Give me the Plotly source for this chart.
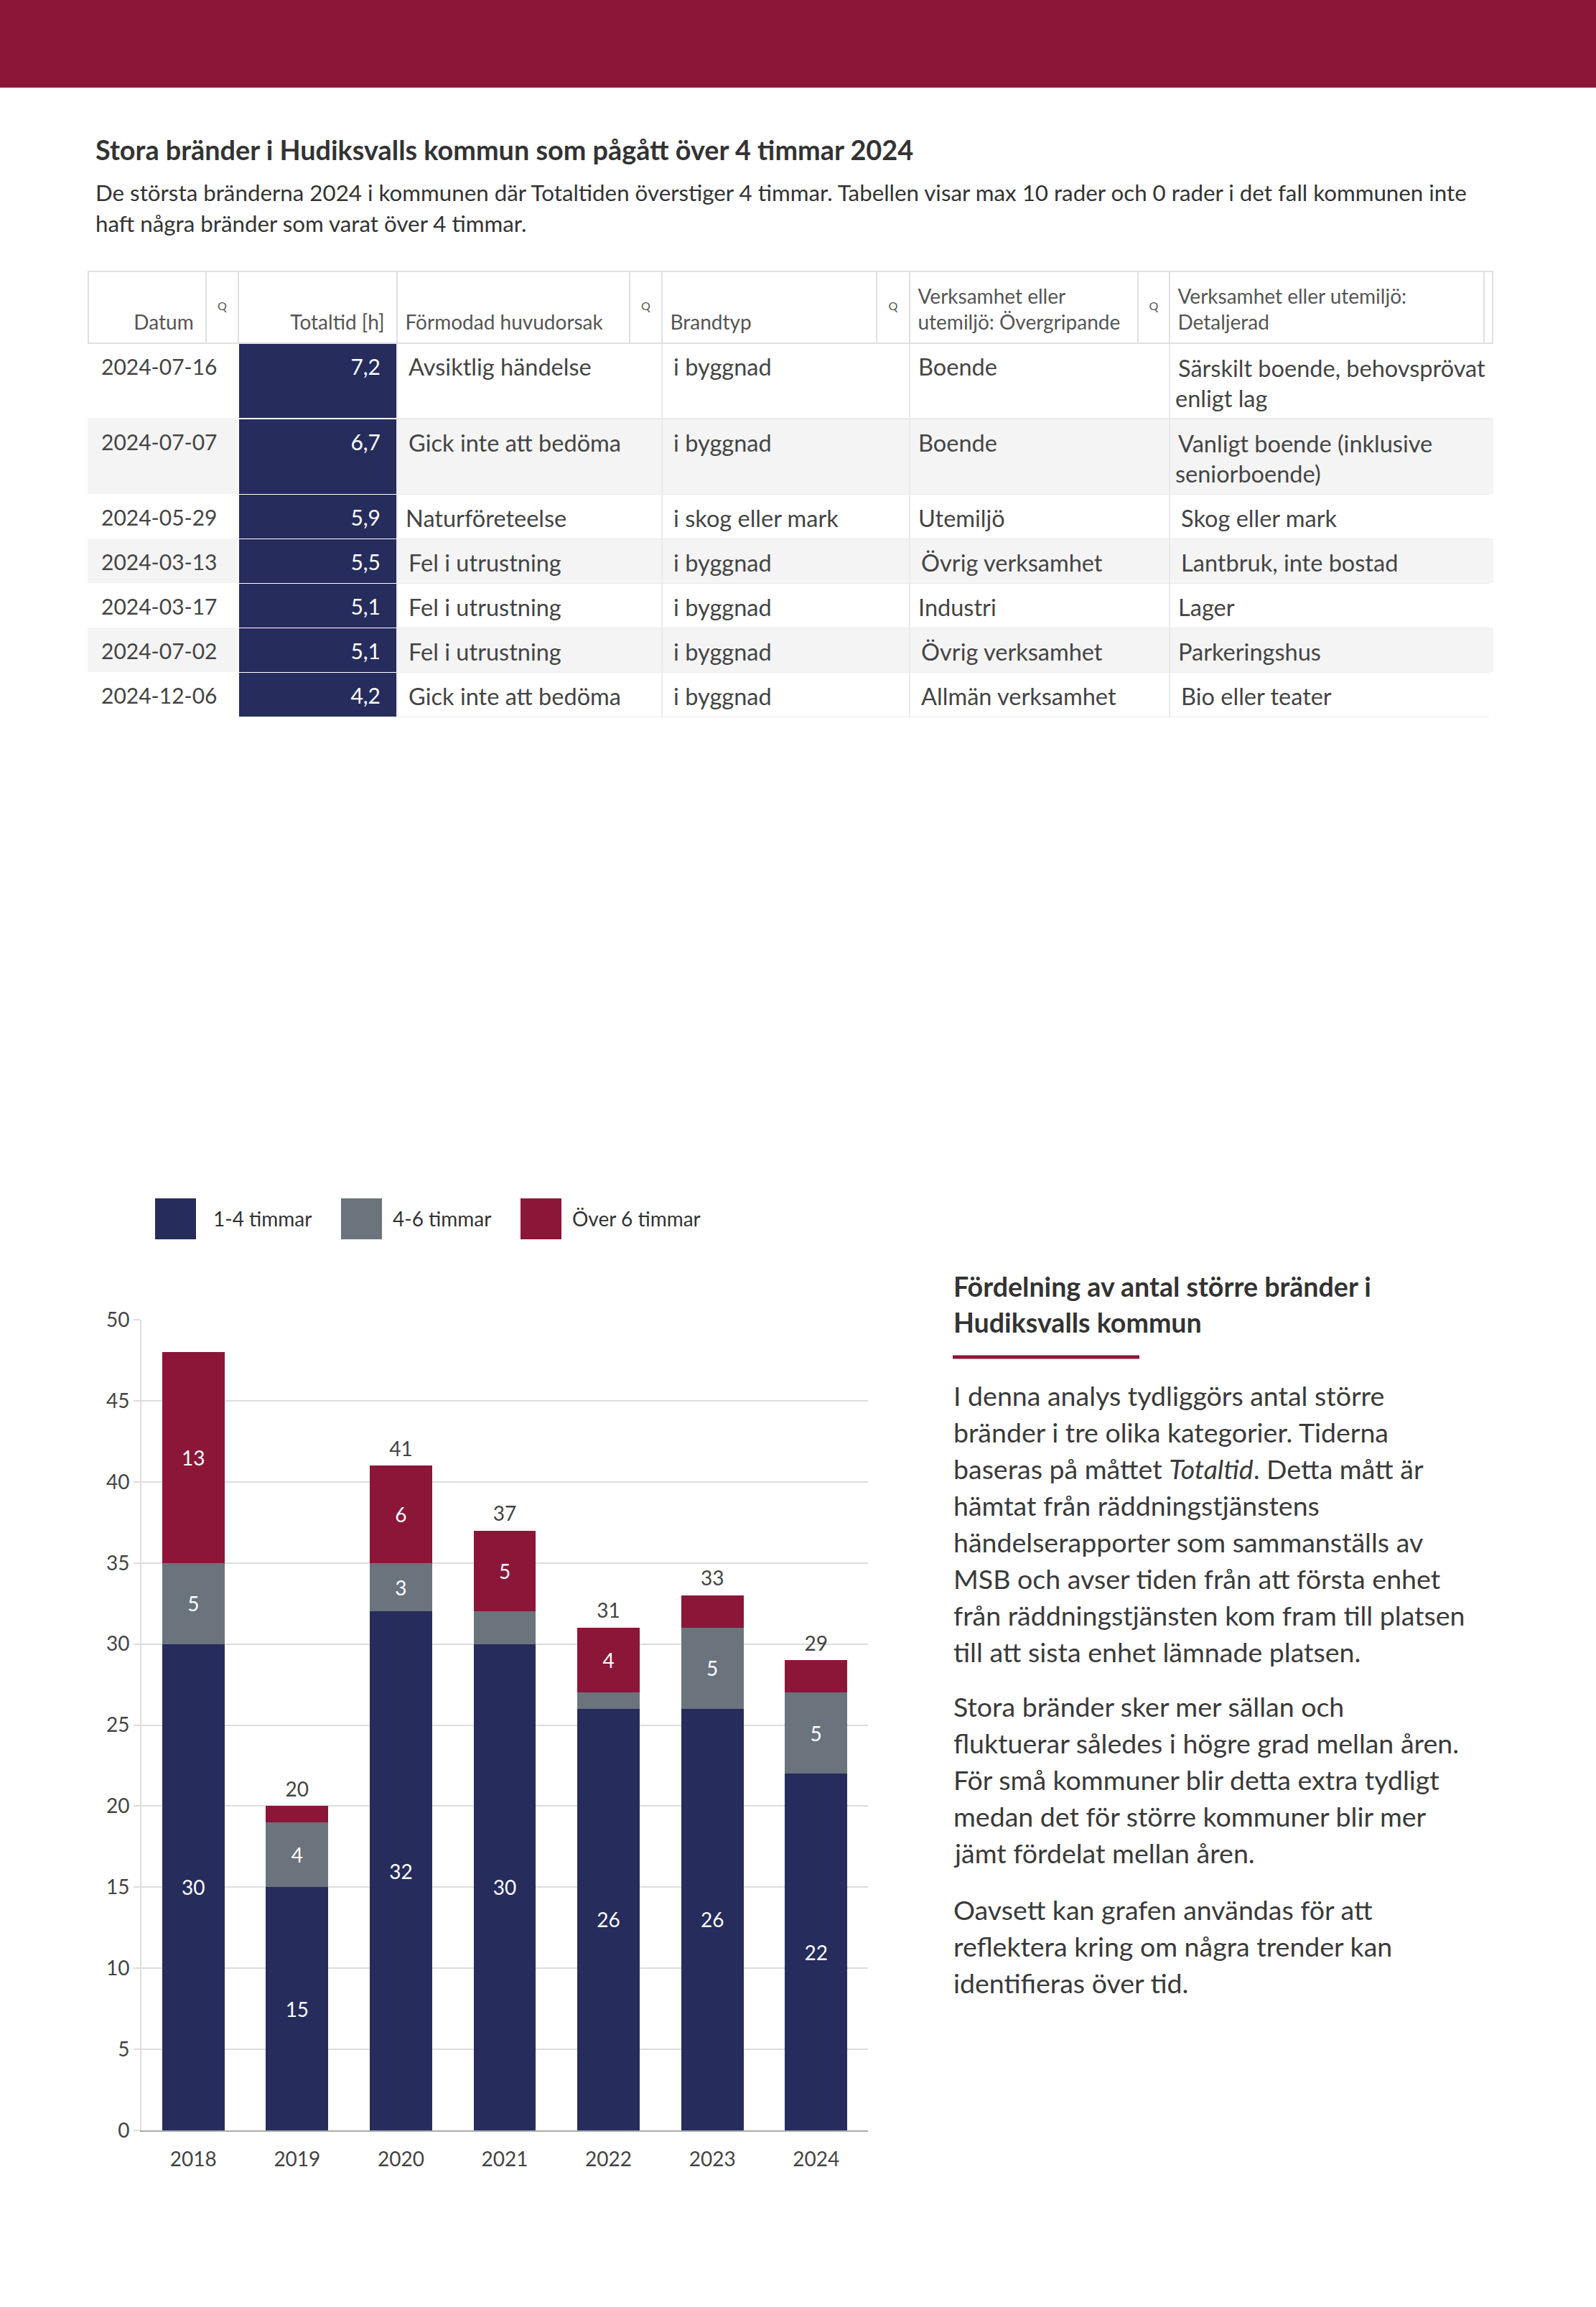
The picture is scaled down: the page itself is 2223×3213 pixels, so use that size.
import plotly.graph_objects as go

W, H = 2223, 3213
FONT = "Lato"
NAVY = "#262C5C"
GREY = "#6B737D"
MAROON = "#8B1638"
TXT = "#3A3A3A"
CLEAR = "rgba(0,0,0,0)"

# ---------------- table data ----------------
datum = ["2024-07-16", "2024-07-07", "2024-05-29", "2024-03-13", "2024-03-17", "2024-07-02", "2024-12-06"]
totaltid = [7.2, 6.7, 5.9, 5.5, 5.1, 5.1, 4.2]
orsak = ["Avsiktlig händelse", "Gick inte att bedöma", "Naturföreteelse", "Fel i utrustning",
         "Fel i utrustning", "Fel i utrustning", "Gick inte att bedöma"]
brandtyp = ["i byggnad", "i byggnad", "i skog eller mark", "i byggnad", "i byggnad", "i byggnad", "i byggnad"]
overgripande = ["Boende", "Boende", "Utemiljö", "Övrig verksamhet", "Industri", "Övrig verksamhet",
                "Allmän verksamhet"]
detaljerad = ["Särskilt boende, behovsprövat<br>enligt lag", "Vanligt boende (inklusive<br>seniorboende)",
              "Skog eller mark", "Lantbruk, inte bostad", "Lager", "Parkeringshus", "Bio eller teater"]
headers = ["Datum", "Totaltid [h]", "Förmodad huvudorsak", "Brandtyp",
           "Verksamhet eller<br>utemiljö: Övergripande", "Verksamhet eller utemiljö:<br>Detaljerad"]

# ---------------- chart data ----------------
years = ["2018", "2019", "2020", "2021", "2022", "2023", "2024"]
h1_4 = [30, 15, 32, 30, 26, 26, 22]
h4_6 = [5, 4, 3, 2, 1, 5, 5]
over6 = [13, 1, 6, 5, 4, 2, 2]
series_names = ["1-4 timmar", "4-6 timmar", "Över 6 timmar"]

title_main = "Stora bränder i Hudiksvalls kommun som pågått över 4 timmar 2024"
subtitle_lines = [
    "De största bränderna 2024 i kommunen där Totaltiden överstiger 4 timmar. Tabellen visar max 10 rader och 0 rader i det fall kommunen inte",
    "haft några bränder som varat över 4 timmar.",
]
side_title = ["Fördelning av antal större bränder i", "Hudiksvalls kommun"]
paragraphs = [
    ["I denna analys tydliggörs antal större", "bränder i tre olika kategorier. Tiderna",
     "baseras på måttet <i>Totaltid</i>. Detta mått är", "hämtat från räddningstjänstens",
     "händelserapporter som sammanställs av", "MSB och avser tiden från att första enhet",
     "från räddningstjänsten kom fram till platsen", "till att sista enhet lämnade platsen."],
    ["Stora bränder sker mer sällan och", "fluktuerar således i högre grad mellan åren.",
     "För små kommuner blir detta extra tydligt", "medan det för större kommuner blir mer",
     "jämt fördelat mellan åren."],
    ["Oavsett kan grafen användas för att", "reflektera kring om några trender kan",
     "identifieras över tid."],
]


def px(x):
    return x / W


def py(y):
    return 1 - y / H


fig = go.Figure()

# ---------------- table body ----------------
n = len(datum)
row_fill = ["#FFFFFF" if i % 2 == 0 else "#F4F4F4" for i in range(n)]
tot_txt = [f"{v:.1f}".replace(".", ",") for v in totaltid]
two_line = ["<br>" in s for s in detaljerad]
spacer = ["\u00a0<br>\u00a0" if t else "" for t in two_line]   # blank helper column: sets row height
blank = [""] * n
body_w = [209, 221, 369, 345, 362, 446, 4]
tx0 = 123
tx1 = tx0 + sum(body_w)
nb = len(body_w)
b_fill = [[NAVY] * n if i == 1 else row_fill for i in range(nb)]
b_line = [["#FFFFFF"] * n if i == 1 else (row_fill if i in (0, nb - 1) else ["#EAEAEA"] * n) for i in range(nb)]
b_fcol = [["#FFFFFF"] * n if i == 1 else ["#444444"] * n for i in range(nb)]
b_fsize = [30, 30, 32.5, 32.5, 32.5, 32.5, 35.5]
b_align = ["left", "right", "left", "left", "left", "left", "left"]
b_prefix = ["\u2004", "", "\u2009", "\u2009", "\u2009", "\u2009", ""]
b_suffix = ["", "\u2002", "", "", "", "", ""]
body_dom = dict(x=[px(tx0), px(tx1)], y=[0.6, py(378)])

det_single = [s if not t else "" for s, t in zip(detaljerad, two_line)]
det_multi = [s if t else "" for s, t in zip(detaljerad, two_line)]


def body_table(values, header_h, fill, line, fcol):
    return go.Table(
        domain=body_dom, columnwidth=body_w,
        header=dict(values=[""] * nb, height=header_h, fill_color=fill[0] if fill == "hdr" else CLEAR,
                    line=dict(color=CLEAR, width=0)),
        cells=dict(values=values, align=b_align, height=62, fill_color=fill,
                   line=dict(color=line, width=1.5), prefix=b_prefix, suffix=b_suffix,
                   font=dict(family=FONT, size=b_fsize, color=fcol)),
    )


# layer 1: fills and grid lines only
fig.add_trace(go.Table(
    domain=body_dom, columnwidth=body_w,
    header=dict(values=[""] * nb, height=100, fill_color="#FFFFFF", line=dict(color="#FFFFFF", width=1)),
    cells=dict(values=[blank] * (nb - 1) + [spacer], align=b_align, height=62, fill_color=b_fill,
               line=dict(color=b_line, width=1.5), font=dict(family=FONT, size=b_fsize, color=CLEAR)),
))
# layer 2: single-line texts, nudged down within their rows
fig.add_trace(go.Table(
    domain=body_dom, columnwidth=body_w,
    header=dict(values=[""] * nb, height=113, fill_color=CLEAR, line=dict(color=CLEAR, width=0)),
    cells=dict(values=[datum, tot_txt, orsak, brandtyp, overgripande, det_single, spacer], align=b_align,
               height=62, fill_color=CLEAR, line=dict(color=CLEAR, width=0), prefix=b_prefix,
               suffix=b_suffix, font=dict(family=FONT, size=b_fsize, color=b_fcol)),
))
# layer 3: wrapped (two-line) texts
fig.add_trace(go.Table(
    domain=body_dom, columnwidth=body_w,
    header=dict(values=[""] * nb, height=107, fill_color=CLEAR, line=dict(color=CLEAR, width=0)),
    cells=dict(values=[blank] * 5 + [det_multi, spacer], align=b_align,
               height=62, fill_color=CLEAR, line=dict(color=CLEAR, width=0), prefix=b_prefix,
               suffix=b_suffix, font=dict(family=FONT, size=b_fsize, color=b_fcol)),
))

# ---------------- table header (with search icons) ----------------
sp = "\u00a0"
hdr_vals = [sp + "<br>" + headers[0] + "\u2004", sp + "<br>Q",
            sp + "<br>" + headers[1] + "\u2004",
            sp + "<br>\u2009" + headers[2], sp + "<br>Q",
            sp + "<br>\u2009" + headers[3], sp + "<br>Q",
            "\u2009" + headers[4].replace("<br>", "<br>\u2009"), sp + "<br>Q",
            "\u2009" + headers[5].replace("<br>", "<br>\u2009"), ""]
hdr_w = [164, 45, 221, 324, 45, 299, 46, 318, 44, 438, 12]
hdr_icon = [False, True, False, False, True, False, True, False, True, False, True]
hdr_align = ["right", "center", "right", "left", "center", "left", "center", "left", "center", "left", "left"]
hdr_size = [16 if f else 28 for f in hdr_icon]
hx = [px(tx0), px(tx0 + sum(hdr_w))]

fig.add_trace(go.Table(
    domain=dict(x=hx, y=[0.6, py(378)]), columnwidth=hdr_w,
    header=dict(values=[""] * len(hdr_w), height=100, fill_color="#FFFFFF",
                line=dict(color="#E0E0E0", width=1.5)),
    cells=dict(values=[[] for _ in hdr_w]),
))
fig.add_trace(go.Table(
    domain=dict(x=hx, y=[0.6, py(387)]), columnwidth=hdr_w,
    header=dict(values=hdr_vals, align=hdr_align, height=100, fill_color=CLEAR,
                line=dict(color=CLEAR, width=0),
                font=dict(family=FONT, size=hdr_size, color="#555555")),
    cells=dict(values=[[] for _ in hdr_w]),
))

# ---------------- stacked bars ----------------
for name, vals, col in zip(series_names, [h1_4, h4_6, over6], [NAVY, GREY, MAROON]):
    fig.add_trace(go.Bar(
        x=years, y=vals, name=name, marker=dict(color=col, line=dict(width=0)),
        text=[str(v) if v >= 3 else "" for v in vals], textposition="inside",
        insidetextanchor="middle", textangle=0, constraintext="none",
        textfont=dict(family=FONT, size=28, color="#FFFFFF"),
        showlegend=False, hoverinfo="skip",
    ))

totals = [a + b + c for a, b, c in zip(h1_4, h4_6, over6)]
YMAX = 50
fig.add_trace(go.Scatter(
    x=years, y=totals, mode="markers+text",
    text=[str(t) if t + 3 <= YMAX else "" for t in totals],
    textposition="top center", marker=dict(size=9, opacity=0),
    textfont=dict(family=FONT, size=28, color="#444444"),
    cliponaxis=False, showlegend=False, hoverinfo="skip",
))

annotations = []
# ---------------- legend (manual) ----------------
shapes = [dict(type="rect", xref="paper", yref="paper", x0=0, x1=1, y0=py(122), y1=1,
               fillcolor=MAROON, line=dict(width=0), layer="below")]
leg_sw = [216, 475, 725]
leg_tx = [295, 545, 795]
for sx, tx, col, name in zip(leg_sw, leg_tx, [NAVY, GREY, MAROON], series_names):
    shapes.append(dict(type="rect", xref="paper", yref="paper", x0=px(sx), x1=px(sx + 57),
                       y0=py(1726), y1=py(1669), fillcolor=col, line=dict(width=0)))
    annotations.append(dict(x=px(tx), y=py(1697), xref="paper", yref="paper", text=name,
                            showarrow=False, xanchor="left", yanchor="middle",
                            font=dict(family=FONT, size=28, color="#333333")))

# ---------------- titles / text ----------------
annotations.append(dict(x=px(131), y=py(209), xref="paper", yref="paper", text=f"<b>{title_main}</b>",
                        showarrow=False, xanchor="left", yanchor="middle",
                        font=dict(family=FONT, size=37.8, color="#333333")))
for i, ln in enumerate(subtitle_lines):
    annotations.append(dict(x=px(131), y=py(268 + 43 * i), xref="paper", yref="paper", text=ln,
                            showarrow=False, xanchor="left", yanchor="middle",
                            font=dict(family=FONT, size=31.3, color="#333333")))

for i, ln in enumerate(side_title):
    annotations.append(dict(x=px(1326), y=py(1791 + 50 * i), xref="paper", yref="paper", text=f"<b>{ln}</b>",
                            showarrow=False, xanchor="left", yanchor="middle",
                            font=dict(family=FONT, size=37.6, color="#333333")))
shapes.append(dict(type="line", xref="paper", yref="paper", x0=px(1327), x1=px(1587), y0=py(1890), y1=py(1890),
                   line=dict(color=MAROON, width=5)))

para_starts = [1943, 2376, 2659]
for start, para in zip(para_starts, paragraphs):
    for j, ln in enumerate(para):
        annotations.append(dict(x=px(1326), y=py(start + 51 * j), xref="paper", yref="paper", text=ln,
                                showarrow=False, xanchor="left", yanchor="middle",
                                font=dict(family=FONT, size=37.5, color=TXT)))

fig.update_layout(
    width=W, height=H, margin=dict(l=0, r=0, t=0, b=0, pad=0, autoexpand=False),
    paper_bgcolor="#FFFFFF", plot_bgcolor="#FFFFFF",
    barmode="stack", bargap=0.4, showlegend=False,
    font=dict(family=FONT, color="#444444"),
    xaxis=dict(domain=[px(197), px(1209)], type="category", showline=True, linecolor="#AAAAAA", linewidth=2,
               ticks="", tickfont=dict(family=FONT, size=28, color="#444444"), ticklabelstandoff=14,
               showgrid=False, fixedrange=True, automargin=False),
    yaxis=dict(domain=[py(2967), py(1838)], range=[0, YMAX], dtick=5, showgrid=True, gridcolor="#DDDDDD",
               gridwidth=2, showline=True, linecolor="#DDDDDD", linewidth=2, ticks="outside", ticklen=9,
               tickcolor="#DDDDDD", tickwidth=2, zeroline=False, automargin=False,
               tickfont=dict(family=FONT, size=28, color="#444444"), fixedrange=True),
    shapes=shapes, annotations=annotations,
)

fig.write_html("out.html", config={"displayModeBar": False},
               post_script="document.body.style.margin='0';document.body.style.overflow='hidden';")
